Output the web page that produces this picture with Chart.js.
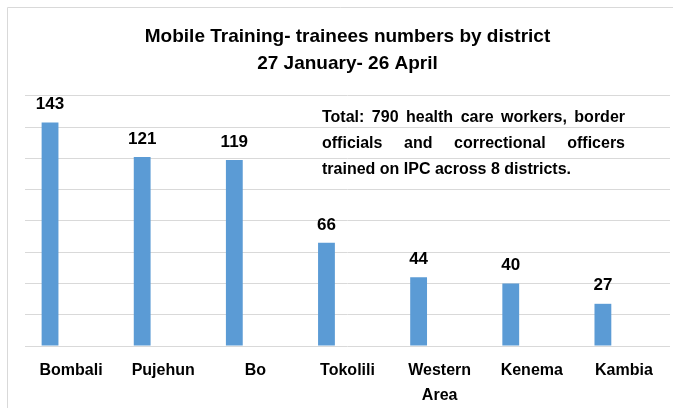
<!DOCTYPE html>
<html>
<head>
<meta charset="utf-8">
<script src="https://cdn.jsdelivr.net/npm/chart.js@4"></script>
<style>
  body { margin: 0; background: #fff; }
  #wrap { width: 673px; height: 408px; }
</style>
</head>
<body>
<div id="wrap"><canvas id="trainingChart" width="673" height="408"></canvas></div>
<script>
const districts = ["Bombali", "Pujehun", "Bo", "Tokolili", ["Western", "Area"], "Kenema", "Kambia"];
const trainees = [143, 121, 119, 66, 44, 40, 27];
const yTicks = [0, 20, 40, 60, 80, 100, 120, 140, 160];
const titleLines = ["Mobile Training- trainees numbers by district", "27 January- 26 April"];
const noteLines = [
    "Total: 790 health care workers, border",
    "officials and correctional officers",
    "trained on IPC across 8 districts."
];

const FONT = "'Liberation Sans', Arial, sans-serif";

// frame lines (top + left) like the Excel chart border
const framePlugin = {
    id: "frame",
    beforeDraw(chart) {
        const ctx = chart.ctx;
        ctx.save();
        ctx.strokeStyle = "#d9d9d9";
        ctx.lineWidth = 1;
        ctx.beginPath();
        ctx.moveTo(7.5, chart.height);
        ctx.lineTo(7.5, 7.5);
        ctx.lineTo(chart.width, 7.5);
        ctx.stroke();
        ctx.restore();
    }
};

// numbers above bars
const valueLabels = {
    id: "valueLabels",
    afterDatasetsDraw(chart) {
        const ctx = chart.ctx;
        const meta = chart.getDatasetMeta(0);
        ctx.save();
        ctx.font = "bold 17px " + FONT;
        ctx.fillStyle = "#000";
        ctx.textAlign = "center";
        ctx.textBaseline = "middle";
        meta.data.forEach((bar, i) => {
            ctx.fillText(String(trainees[i]), bar.x, bar.y - 18);
        });
        ctx.restore();
    }
};

// justified note text in the upper right
const notePlugin = {
    id: "note",
    afterDraw(chart) {
        const ctx = chart.ctx;
        const left = 322, width = 303;
        ctx.save();
        ctx.font = "bold 16px " + FONT;
        ctx.fillStyle = "#000";
        ctx.textBaseline = "middle";
        noteLines.forEach((line, i) => {
            const y = 118 + i * 26;
            const words = line.split(" ");
            if (i === noteLines.length - 1) {
                ctx.fillText(line, left, y);
                return;
            }
            const wordsW = words.reduce((s, w) => s + ctx.measureText(w).width, 0);
            const gap = (width - wordsW) / (words.length - 1);
            let x = left;
            words.forEach(w => {
                ctx.fillText(w, x, y);
                x += ctx.measureText(w).width + gap;
            });
        });
        ctx.restore();
    }
};

const ctx = document.getElementById("trainingChart").getContext("2d");
new Chart(ctx, {
    type: "bar",
    data: {
        labels: districts,
        datasets: [
            {
                label: "Trainees",
                data: trainees,
                backgroundColor: "#5b9bd5",
                categoryPercentage: 0.913,
                barPercentage: 0.4,
            },
            {
                // empty second series - keeps the bars on the left of each slot
                label: "",
                data: districts.map(() => null),
                backgroundColor: "#ed7d31",
                categoryPercentage: 0.913,
                barPercentage: 0.4,
            }
        ]
    },
    options: {
        responsive: false,
        animation: false,
        layout: { padding: { left: 25, right: 3, top: 0, bottom: 0 } },
        plugins: {
            legend: { display: false },
            tooltip: { enabled: false },
            title: {
                display: true,
                text: titleLines,
                color: "#000",
                font: { size: 19, weight: "bold", family: FONT, lineHeight: 1.42 },
                padding: { top: 23, bottom: 19 },
            },
        },
        scales: {
            x: {
                grid: { display: false, drawTicks: false },
                border: { display: false },
                afterFit(axis) { axis.height = 62; },
                ticks: {
                    color: "#000",
                    padding: 12,
                    maxRotation: 0,
                    autoSkip: false,
                    font: { size: 16, weight: "bold", family: FONT, lineHeight: 1.56 },
                },
            },
            y: {
                min: yTicks[0],
                max: yTicks[yTicks.length - 1],
                afterBuildTicks(axis) {
                    axis.ticks = yTicks.map(v => ({ value: v }));
                },
                grid: { color: "#d9d9d9", drawTicks: false },
                border: { display: false },
                ticks: { display: false },
            },
        },
    },
    plugins: [framePlugin, valueLabels, notePlugin],
});
</script>
</body>
</html>
